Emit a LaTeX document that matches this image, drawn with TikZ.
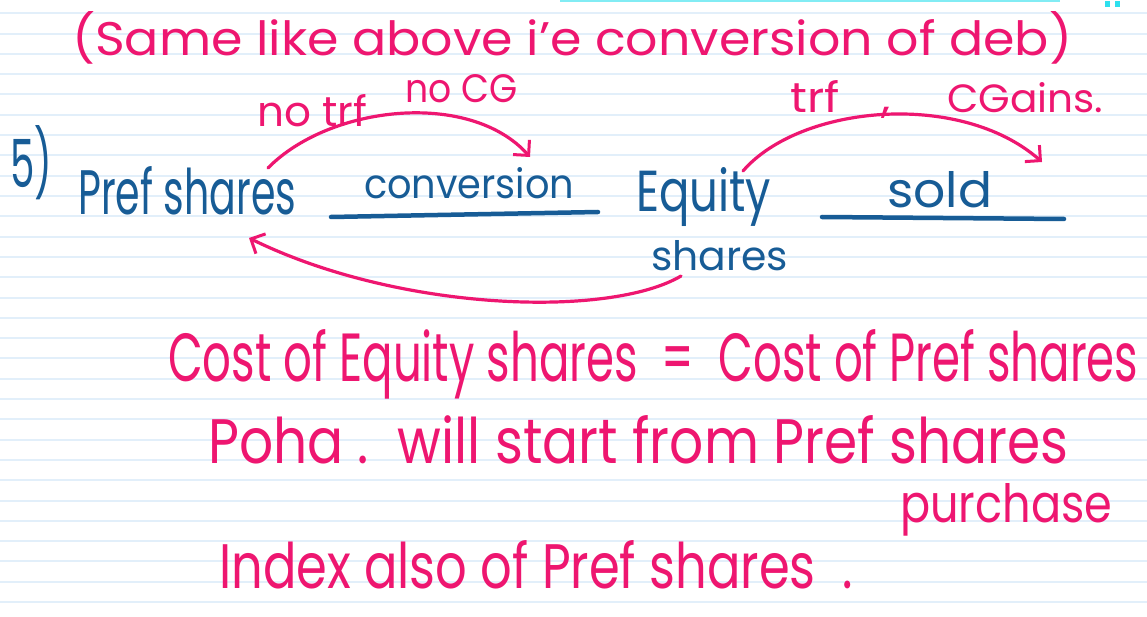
\documentclass[tikz,border=0pt]{standalone}
\usepackage{fontspec}
\setmainfont{Poppins}
\usepackage{graphicx}
\usetikzlibrary{arrows.meta}
\definecolor{ink}{HTML}{EE1670}
\definecolor{bink}{HTML}{175C96}
\definecolor{rule}{HTML}{E2EFFA}
\definecolor{cyanbar}{HTML}{2FE0EE}
\newcommand{\fitwh}[3]{\resizebox{#1}{#2}{#3}}
\tikzset{
  pinktxt/.style={text=ink, anchor=base west, inner sep=0pt},
  bluetxt/.style={text=bink, anchor=base west, inner sep=0pt},
  pinkarrow/.style={draw=ink, line width=3.2pt, line cap=round, -{Straight Barb[length=11pt,width=22pt,line width=3pt]}},
  blueline/.style={draw=bink, line width=4.5pt, line cap=round},
  paperline/.style={draw=rule, line width=2pt}
}
\begin{document}
\begin{tikzpicture}[x=1pt,y=-1pt]
\useasboundingbox (0,0) rectangle (1147,617);
\fill[white] (0,0) rectangle (1147,617);
% ruled paper
\foreach \k in {0,...,29}{
  \draw[paperline] (0,{13.3+20.3*\k}) -- (1147,{13.3+20.3*\k});
}
\draw[cyanbar, line width=1.5pt, opacity=0.6] (560,1) -- (1060,1);
\fill[cyanbar] (1105,1) rectangle (1110,7);
\fill[cyanbar] (1115,1) rectangle (1120,7);

% title
\node[pinktxt] (title) at (72,56) {\fitwh{1000pt}{44pt}{(Same like above i'e conversion of deb)}};

% item number
\node[bluetxt] (num) at (10,188) {\fitwh{42pt}{62pt}{5)}};

% blue row
\node[bluetxt] (pref) at (78,215) {\fitwh{218pt}{48pt}{Pref shares}};
\node[bluetxt] (conv) at (364,199) {\fitwh{210pt}{31pt}{conversion}};
\node[bluetxt] (eq) at (636,212) {\fitwh{135pt}{44pt}{Equity}};
\node[bluetxt] (eqsh) at (651,270) {\fitwh{137pt}{30pt}{shares}};
\node[bluetxt] (sold) at (887,208) {\fitwh{105pt}{36pt}{sold}};

\coordinate (u1a) at (331,217);
\coordinate (u1b) at (598,212);
\coordinate (u2a) at (822,217);
\coordinate (u2b) at (1064,219);
\draw[blueline] (u1a) -- (u1b);
\draw[blueline] (u2a) -- (u2b);

% pink labels
\node[pinktxt] (notrf) at (257,127) {\fitwh{110pt}{32pt}{no trf}};
\node[pinktxt] (nocg) at (405,103) {\fitwh{112pt}{28pt}{no CG}};
\node[pinktxt] (trf) at (790,113) {\fitwh{100pt}{32pt}{trf\hspace{0.9em},}};
\node[pinktxt] (gains) at (947,113) {\fitwh{156pt}{30pt}{CGains.}};

% arrows
\coordinate (a1s) at (268,168);
\coordinate (a1e) at (530,157);
\coordinate (a2s) at (743,171);
\coordinate (a2e) at (1042,162);
\coordinate (a3s) at (681,276);
\coordinate (a3e) at (249,238);
\draw[pinkarrow] (a1s) .. controls (330,105) and (470,90) .. (a1e);
\draw[pinkarrow] (a2s) .. controls (800,105) and (960,90) .. (a2e);
\draw[pinkarrow] (a3s) .. controls (610,318) and (400,312) .. (a3e);

% pink notes
\node[pinktxt] (cost) at (168,381) {\fitwh{970pt}{52pt}{Cost of Equity shares\ \ =\ \ Cost of Pref shares}};
\node[pinktxt] (poha) at (208,463) {\fitwh{860pt}{48pt}{Poha\ .\ \ will start from Pref shares}};
\node[pinktxt] (purch) at (900,522) {\fitwh{212pt}{39pt}{purchase}};
\node[pinktxt] (index) at (219,588) {\fitwh{633pt}{48pt}{Index also of Pref shares\ \ .}};
\end{tikzpicture}
\end{document}
